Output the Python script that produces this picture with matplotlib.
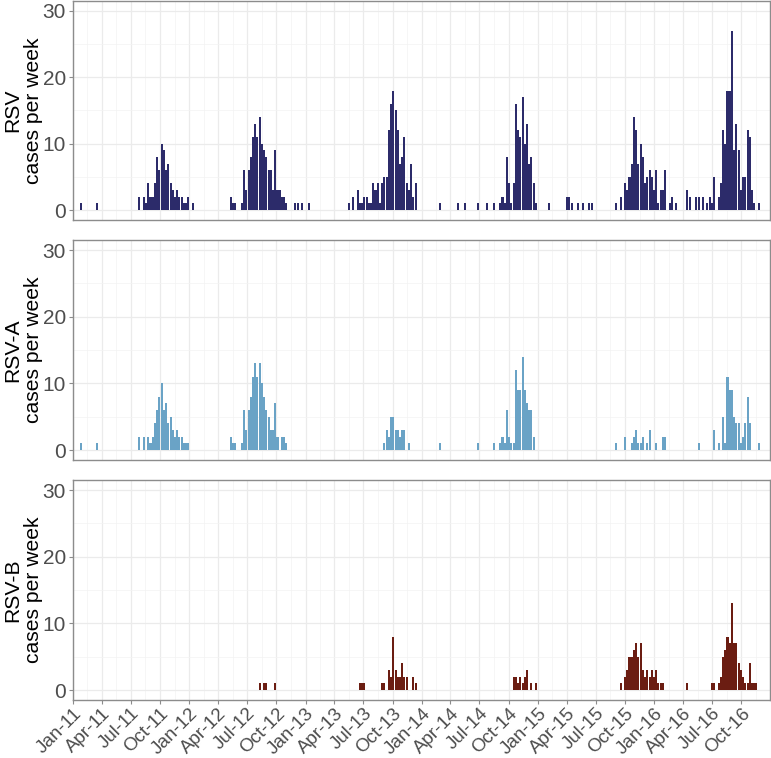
import numpy as np
import pandas as pd
import matplotlib
matplotlib.use("Agg")
import matplotlib.pyplot as plt
import matplotlib.dates as mdates

# weekly counts; week number counted from the week starting 3 Jan 2011
first_week = "2011-01-03"
n_weeks = 313

rsv_segments = [
    (3, [1]),
    (10, [1]),
    (29, [2, 0, 2, 1, 4, 2, 2, 4, 8, 6, 10, 9, 6, 7, 4, 3, 2, 3, 2, 2, 1, 1, 2, 0, 1]),
    (70, [2, 1, 1, 0, 0, 1, 6, 3, 6, 8, 11, 13, 11, 14, 10, 9, 8, 6, 6, 3, 9, 3, 3, 2, 2, 1]),
    (99, [1, 1, 0, 1, 0, 0, 1]),
    (123, [1, 0, 2, 0, 3, 1, 1, 2, 2, 1, 1, 4, 3, 4, 1, 4, 5, 5, 12, 16, 18, 15, 12, 7, 8, 11, 4, 3, 7, 2, 4]),
    (164, [1]), (172, [1]), (175, [1]), (181, [1]), (185, [1]), (188, [1]),
    (191, [1, 2, 1, 8, 4, 1, 4, 16, 12, 11, 17, 10, 13, 7, 8, 4, 1]),
    (213, [1]),
    (221, [2, 2, 1]),
    (226, [1, 0, 1]),
    (231, [1, 1]),
    (243, [1, 0, 2]),
    (247, [4, 3, 5, 7, 14, 12, 7, 10, 8, 4, 5, 6, 5, 3, 6, 1, 3, 3, 6, 0, 1, 2, 0, 1]),
    (275, [3, 2, 0, 0, 2, 2, 0, 2, 0, 1, 2, 1, 5, 0, 2, 4, 12, 10, 18, 18, 27, 9, 13, 9, 3, 5, 5, 12, 11, 3, 1, 0, 1]),
]

rsva_segments = [
    (3, [1]),
    (10, [1]),
    (29, [2, 0, 2, 0, 2, 1, 2, 4, 6, 8, 10, 6, 7, 4, 5, 3, 2, 3, 2, 2, 1, 1, 1]),
    (70, [2, 1, 1, 0, 0, 1, 6, 3, 6, 8, 11, 13, 11, 13, 10, 8, 6, 5, 3, 3, 7, 2, 0, 2, 2, 1]),
    (139, [1, 3, 2, 5, 5, 3, 3, 2, 3, 3, 0, 1]),
    (164, [1]), (181, [1]), (188, [1]),
    (191, [1, 2, 1, 6, 2, 1, 1, 12, 9, 9, 14, 9, 7, 6, 6, 2]),
    (243, [1]),
    (247, [2, 0, 0, 1, 2, 3, 1, 1, 2, 0, 1, 3, 0, 0, 1, 0, 0, 2, 2]),
    (280, [1]),
    (287, [3, 0, 1, 0, 5, 1, 11, 9, 9, 5, 4, 4, 1, 2, 4, 8, 4]),
    (307, [1]),
]

rsvb_segments = [
    (83, [1]), (85, [1, 1]), (90, [1]),
    (128, [1, 1, 1]),
    (138, [1, 1, 0, 3, 2, 8, 3, 2, 2, 4, 2, 2, 0, 0, 2, 1]),
    (197, [2, 2, 1, 2, 1, 2, 3, 0, 1, 0, 1]),
    (245, [1, 0, 2, 3, 5, 5, 6, 7, 5, 7, 3, 2, 3, 2, 3, 2, 3, 1, 1, 1]),
    (275, [1]),
    (286, [1, 1, 0, 1, 2, 5, 6, 8, 7, 13, 7, 7, 4, 3, 2, 1, 1, 4, 1, 1, 1]),
]

panel_names = ["RSV", "RSV-A", "RSV-B"]
panel_colors = ["#2c2b6a", "#6aa3c6", "#6b1d12"]
x_labels = ["Jan-11", "Apr-11", "Jul-11", "Oct-11", "Jan-12", "Apr-12", "Jul-12",
            "Oct-12", "Jan-13", "Apr-13", "Jul-13", "Oct-13", "Jan-14", "Apr-14",
            "Jul-14", "Oct-14", "Jan-15", "Apr-15", "Jul-15", "Oct-15", "Jan-16",
            "Apr-16", "Jul-16", "Oct-16"]
y_ticks = [0, 10, 20, 30]


def weekly(segments):
    counts = np.zeros(n_weeks)
    for start, vals in segments:
        counts[start:start + len(vals)] = vals
    return counts


plt.rcParams["font.family"] = ["Liberation Sans", "DejaVu Sans"]

fig = plt.figure(figsize=(7.71, 7.58), dpi=100)
W, H = 771.0, 758.0
panel_px = [(1, 220), (240, 460), (480, 700)]

week_start = pd.Timestamp(first_week) + pd.to_timedelta(np.arange(n_weeks) * 7, unit="D")
x_centres = mdates.date2num(week_start.to_pydatetime()) + 3.5

tick_dates = pd.to_datetime(x_labels, format="%b-%y")
tick_num = mdates.date2num(tick_dates.to_pydatetime())
minor_num = (tick_num[:-1] + tick_num[1:]) / 2.0
minor_num = np.append(minor_num, tick_num[-1] + 46)
x_lo = mdates.date2num(pd.Timestamp("2011-01-01").to_pydatetime())
x_hi = mdates.date2num(pd.Timestamp("2016-12-30").to_pydatetime())

series = [weekly(rsv_segments), weekly(rsva_segments), weekly(rsvb_segments)]

for i, (name, col, counts) in enumerate(zip(panel_names, panel_colors, series)):
    top, bot = panel_px[i]
    ax = fig.add_axes([73 / W, 1 - bot / H, 697 / W, (bot - top) / H])
    nz = counts > 0
    ax.bar(x_centres[nz], counts[nz], width=6.4, color=col, linewidth=0, zorder=3)

    ax.set_xlim(x_lo, x_hi)
    ax.set_ylim(-1.5, 31.5)
    ax.set_yticks(y_ticks)
    ax.set_yticks([5, 15, 25], minor=True)
    ax.set_xticks(tick_num)
    ax.set_xticks(minor_num, minor=True)
    ax.grid(which="major", color="#ebebeb", linewidth=0.9, zorder=0)
    ax.grid(which="minor", color="#f3f3f3", linewidth=0.5, zorder=0)
    ax.set_axisbelow(True)

    for sp in ax.spines.values():
        sp.set_color("#8c8c8c")
        sp.set_linewidth(1.0)

    ax.tick_params(axis="y", which="major", length=3, color="#8c8c8c",
                   labelsize=15, labelcolor="#4d4d4d", pad=2)
    ax.tick_params(which="minor", length=0)
    if i < 2:
        ax.tick_params(axis="x", which="major", length=0, labelbottom=False)
    else:
        ax.tick_params(axis="x", which="major", length=3, color="#8c8c8c",
                       labelsize=13.5, labelcolor="#4d4d4d", pad=0.5)
        ax.set_xticklabels(x_labels, rotation=45, ha="right", rotation_mode="anchor")

    ax.set_ylabel(name + "\ncases per week", fontsize=15.2, linespacing=1.1, color="black")
    ax.yaxis.set_label_coords(-30 / 697, 0.5)

fig.savefig("out.png", dpi=100, facecolor="white")
